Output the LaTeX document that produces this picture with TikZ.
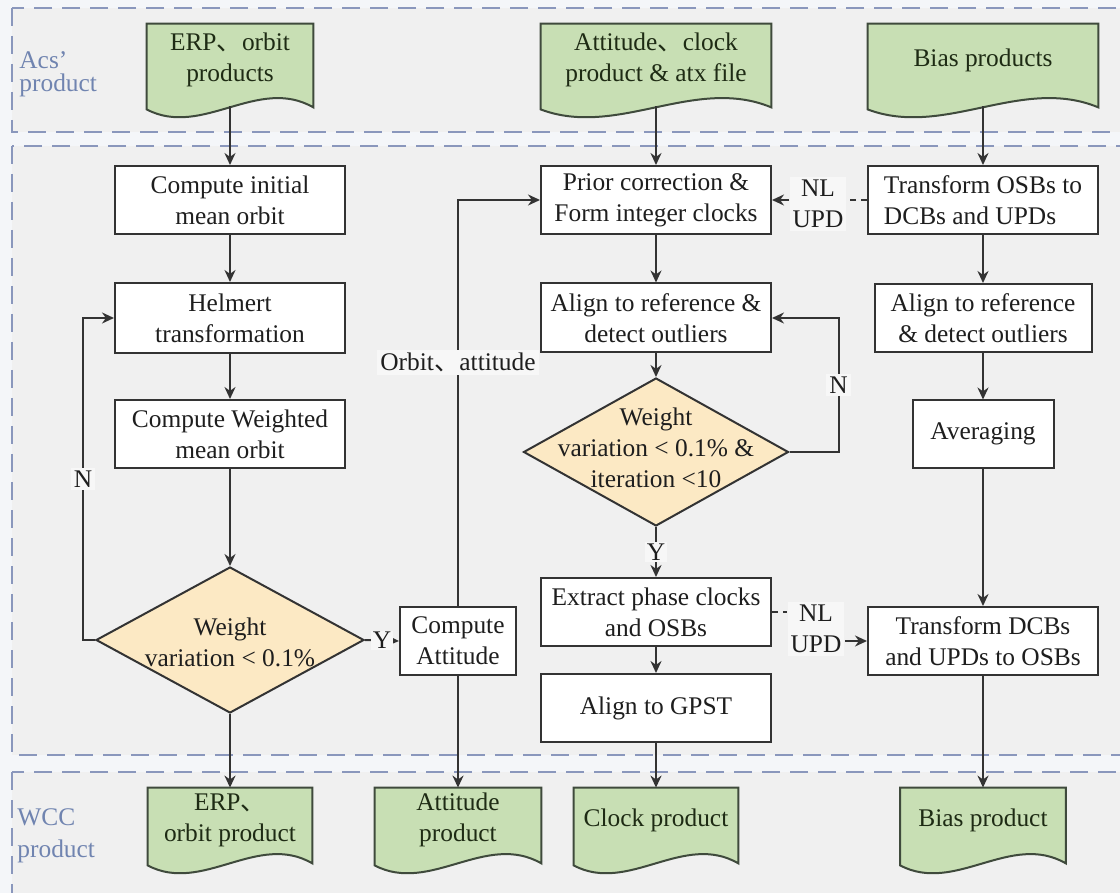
\documentclass[tikz,border=0pt]{standalone}
\usepackage{fontspec}
\setmainfont{Liberation Serif}
\newfontfamily\cjk{Noto Sans CJK SC}
\usetikzlibrary{shapes.geometric,arrows.meta,calc}
\pgfdeclarelayer{bands}\pgfdeclarelayer{docs}
\pgfsetlayers{bands,docs,main}
\definecolor{pagebg}{HTML}{F4F6F9}
\definecolor{bandbg}{HTML}{F0F0F0}
\definecolor{bandline}{HTML}{8A97BC}
\definecolor{bandtext}{HTML}{7084B0}
\definecolor{docgreen}{HTML}{C8DFB4}
\definecolor{docline}{HTML}{3F4A3C}
\definecolor{doctxt}{HTML}{1E2B14}
\definecolor{diafill}{HTML}{FCE9C4}
\definecolor{boxline}{HTML}{333333}
\definecolor{txt}{HTML}{1E1E1E}
\definecolor{lblbg}{HTML}{F7F7F7}
\newcommand\docshape[1]{\path[docsh] (#1.north west) -- (#1.north east) -- ($(#1.south east)+(0,11)$) .. controls ($(#1.south east)!1/3!(#1.south west)+(0,-21)$) and ($(#1.south east)!2/3!(#1.south west)+(0,42)$) .. ($(#1.south west)+(0,13)$) -- cycle;}
\begin{document}
\begin{tikzpicture}[x=0.5pt,y=-0.5pt,
  base/.style={font=\fontsize{12.7}{15.5}\selectfont, text=txt},
  box/.style={base, draw=boxline, fill=white, line width=1pt, align=center, inner xsep=2pt, inner ysep=1pt, minimum width=115pt, minimum height=34pt},
  docnode/.style={base, text=doctxt, align=center, inner sep=0pt},
  docsh/.style={fill=docgreen, draw=docline, line width=1pt},
  dia/.style={diamond, draw=boxline, fill=diafill, line width=1pt, inner sep=0pt},
  diatext/.style={base, align=center, inner sep=0pt},
  lbl/.style={base, fill=lblbg, inner sep=1.5pt, align=center},
  bandlbl/.style={base, text=bandtext, align=left, anchor=west, inner sep=0pt},
  band/.style={fill=bandbg, draw=bandline, line width=1pt, dash pattern=on 9pt off 5pt},
  arr/.style={draw=boxline, line width=1pt, -{Stealth[length=6pt,width=5.5pt]}},
  dash line/.style={draw=boxline, line width=1pt, dash pattern=on 3pt off 2.5pt}
]
\useasboundingbox (0,0) rectangle (1120,893);
\begin{pgfonlayer}{bands}
  \fill[pagebg] (0,0) rectangle (1120,893);
  \path[band] (12,8) rectangle (1140,132);
  \path[band] (12,146) rectangle (1140,755);
  \path[band] (12,772) rectangle (1140,910);
\end{pgfonlayer}

% band labels
\node[bandlbl, font=\fontsize{12.7}{11.5}\selectfont] (lacs) at (19,74) {Acs'\\product};
\node[bandlbl, font=\fontsize{12.7}{16}\selectfont] (lwcc) at (17,836) {WCC\\product};

% input documents
\node[docnode, minimum width=83pt, minimum height=36pt] (erpT) at (230,60) {ERP{\cjk 、}orbit\\products};
\node[docnode, minimum width=115pt, minimum height=36pt] (attT) at (656,60) {Attitude{\cjk 、}clock\\product \& atx file};
\node[docnode, minimum width=115pt, minimum height=36pt] (biasT) at (983,60) {Bias products};

% output documents
\node[docnode, minimum width=82pt, minimum height=32pt] (erpB) at (230,820) {ERP{\cjk 、}\\orbit product};
\node[docnode, minimum width=83pt, minimum height=32pt] (attB) at (458,820) {Attitude\\product};
\node[docnode, minimum width=82pt, minimum height=32pt] (clockB) at (656,820) {Clock product};
\node[docnode, minimum width=82.5pt, minimum height=32pt] (biasB) at (983,820) {Bias product};

\begin{pgfonlayer}{docs}
  \docshape{erpT}\docshape{attT}\docshape{biasT}
  \docshape{erpB}\docshape{attB}\docshape{clockB}\docshape{biasB}
\end{pgfonlayer}

% left column
\node[box] (init) at (230,200) {Compute initial\\mean orbit};
\node[box, minimum height=35pt] (helm) at (230,318) {Helmert\\transformation};
\node[box] (wgt) at (230,434) {Compute Weighted\\mean orbit};
\node[dia, minimum width=134pt, minimum height=73pt] (dia1) at (230,640) {};
\node[diatext] (dia1t) at (230,642) {Weight\\variation < 0.1\%};
\node[box, minimum width=58pt] (att) at (458,641) {Compute\\Attitude};

% middle column
\node[box] (prior) at (656,200) {Prior correction \&\\Form integer clocks};
\node[box, minimum height=34.5pt] (alignM) at (656,318) {Align to reference \&\\detect outliers};
\node[dia, minimum width=132.5pt, minimum height=74pt] (dia2) at (656,452) {};
\node[diatext] (dia2t) at (656,448) {Weight\\variation < 0.1\% \&\\iteration <10};
\node[box] (extract) at (656,612) {Extract phase clocks\\and OSBs};
\node[box] (gpst) at (656,708) {Align to GPST};

% right column
\node[box, align=left] (tosb) at (983,200) {Transform OSBs to\\DCBs and UPDs};
\node[box, minimum width=108.5pt] (alignR) at (983,318) {Align to reference\\\& detect outliers};
\node[box, minimum width=70.5pt, minimum height=33.5pt] (avg) at (983,434) {Averaging};
\node[box] (tdcb) at (983,641) {Transform DCBs\\and UPDs to OSBs};

% NL UPD labels
\node[lbl] (nl1) at (818,204) {NL\\UPD};
\node[lbl] (nl2) at (816,629) {NL\\UPD};

% connectors: left column
\draw[arr] ($(erpT.south)+(0,10)$) -- (init.north);
\draw[arr] (init) -- (helm);
\draw[arr] (helm) -- (wgt);
\draw[arr] (wgt) -- (dia1.north);
\draw[arr] (dia1.south) -- (erpB.north);
\draw[arr] (dia1.west) -- ++(-12,0) |- node[lbl, pos=0.25] {N} (helm.west);
\draw[arr] (dia1.east) -- node[lbl, inner sep=0.8pt] {Y} (att.west);
\draw[arr] (att.north) |- node[lbl, pos=0.3] {Orbit{\cjk 、}attitude} (prior.west);
\draw[arr] (att.south) -- (attB.north);

% middle column
\draw[arr] ($(attT.south)+(0,10)$) -- (prior.north);
\draw[arr] (prior) -- (alignM);
\draw[arr] (alignM) -- (dia2.north);
\draw[arr] (dia2.south) -- node[lbl, inner sep=0.8pt] {Y} (extract.north);
\draw[arr] (dia2.east) -- ++(49,0) |- node[lbl, pos=0.25] {N} (alignM.east);
\draw[arr] (extract) -- (gpst);
\draw[arr] (gpst) -- (clockB.north);

% right column
\draw[arr] ($(biasT.south)+(0,10)$) -- (tosb.north);
\draw[arr] (tosb) -- (alignR);
\draw[arr] (alignR) -- (avg);
\draw[arr] (avg) -- (tdcb);
\draw[arr] (tdcb) -- (biasB.north);

% NL UPD connectors
\draw[dash line] (tosb.west) -- (nl1.east |- tosb.west);
\draw[arr] (nl1.west |- prior.east) -- (prior.east);
\draw[dash line] (extract.east) -- (nl2.west |- extract.east);
\draw[arr] (nl2.east |- tdcb.west) -- (tdcb.west);
\end{tikzpicture}
\end{document}
